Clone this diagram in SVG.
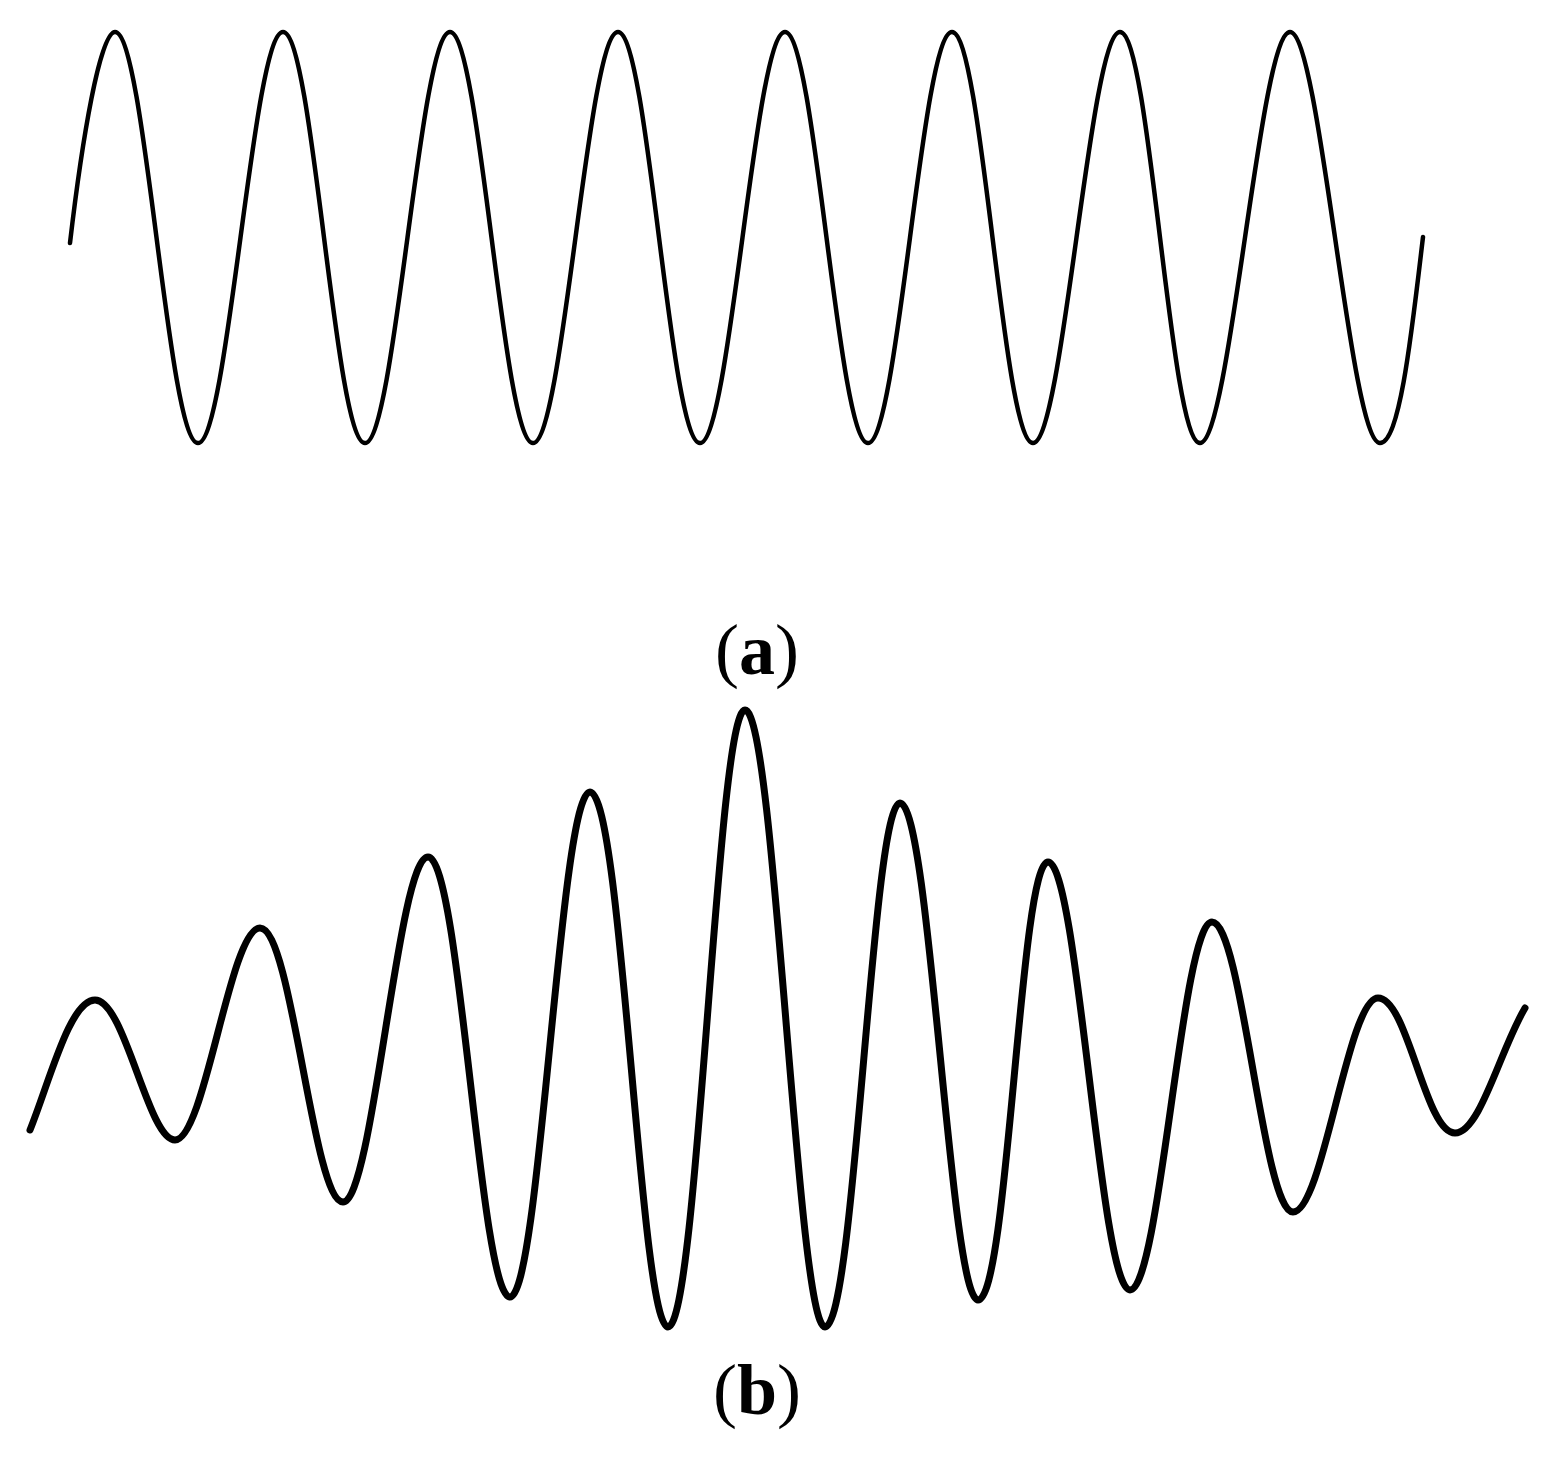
<svg xmlns="http://www.w3.org/2000/svg" width="1542" height="1465" viewBox="0 0 1542 1465">
<style>
.w{fill:none;stroke:#000;stroke-linecap:round;stroke-linejoin:round}
.l{font-family:"Liberation Serif",serif;font-size:72px;fill:#000}
</style>
<rect width="1542" height="1465" fill="#fff"/>
<g id="wave-a">
<path class="w" stroke-width="4.5" d="M70,243 C82,140 100,32 115,32 C145,32 168,443 198,443 C228,443 253,32 283,32 C313,32 335,443 365,443 C395,443 420,32 450,32 C480,32 503,443 533,443 C563,443 588,32 618,32 C648,32 670,443 700,443 C730,443 755,32 785,32 C815,32 838,443 868,443 C898,443 922,32 952,32 C982,32 1003,443 1033,443 C1063,443 1090,32 1120,32 C1150,32 1170,443 1200,443 C1230,443 1260,32 1290,32 C1320,32 1350,443 1380,443 C1400,443 1412,330 1423,237"/>
<text class="l" x="757" y="674" text-anchor="middle">(<tspan font-weight="bold">a</tspan>)</text>
</g>
<g id="wave-b">
<path class="w" stroke-width="7" d="M30,1130 C50,1080 70,1000 95,1000 C125,1000 148,1140 175,1140 C205,1140 230,928 260,928 C292,928 313,1202 343,1202 C373,1202 398,857 428,857 C460,857 480,1297 510,1297 C540,1297 560,792 590,792 C622,792 640,1327 668,1327 C698,1327 717,710 745,710 C775,710 797,1327 825,1327 C855,1327 872,803 900,803 C930,803 950,1300 978,1300 C1008,1300 1020,862 1048,862 C1078,862 1100,1290 1130,1290 C1160,1290 1182,922 1212,922 C1242,922 1263,1212 1293,1212 C1323,1212 1348,998 1378,998 C1408,998 1425,1133 1455,1133 C1480,1133 1500,1050 1525,1008"/>
<text class="l" x="757" y="1414" text-anchor="middle">(<tspan font-weight="bold">b</tspan>)</text>
</g>
</svg>
